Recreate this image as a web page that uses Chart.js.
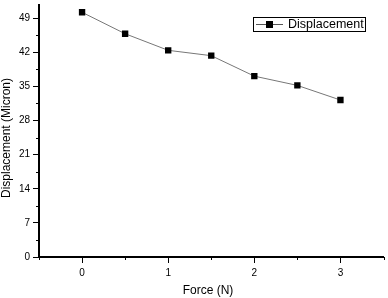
<!DOCTYPE html>
<html>
<head>
<meta charset="utf-8">
<script src="https://cdn.jsdelivr.net/npm/chart.js@4.4.0/dist/chart.umd.min.js"></script>
<style>
  html, body { margin: 0; padding: 0; background: #fff; }
  #wrap { width: 388px; height: 298px; }
</style>
</head>
<body>
<div id="wrap"><canvas id="force_chart" width="388" height="298"></canvas></div>
<script>
// data
const forces = [0, 0.5, 1, 1.5, 2, 2.5, 3];
const displacements = [50.2, 45.8, 42.4, 41.3, 37.1, 35.2, 32.2];
const x_ticks = [0, 1, 2, 3];
const x_minor = [-0.5, 0.5, 1.5, 2.5, 3.5];
const y_ticks = [0, 7, 14, 21, 28, 35, 42, 49];
const y_minor = [3.5, 10.5, 17.5, 24.5, 31.5, 38.5, 45.5];
const series_label = 'Displacement';
const x_title = 'Force (N)';
const y_title = 'Displacement (Micron)';

const FONT = '"Liberation Sans", Arial, sans-serif';

// minor ticks, axis titles and the boxed legend
const extras = {
    id: 'extras',
    afterDraw(chart){
        const ctx = chart.ctx;
        const xs = chart.scales.x;
        const ys = chart.scales.y;
        const area = chart.chartArea;
        ctx.save();
        ctx.strokeStyle = '#000';
        ctx.lineWidth = 1;
        x_minor.forEach(v => {
            const px = Math.round(xs.getPixelForValue(v)) + 0.5;
            ctx.beginPath();
            ctx.moveTo(px, area.bottom);
            ctx.lineTo(px, area.bottom + 3);
            ctx.stroke();
        });
        y_minor.forEach(v => {
            const py = Math.round(ys.getPixelForValue(v)) + 0.5;
            ctx.beginPath();
            ctx.moveTo(area.left, py);
            ctx.lineTo(area.left - 3, py);
            ctx.stroke();
        });

        // axis titles
        ctx.fillStyle = '#000';
        ctx.font = '12px ' + FONT;
        ctx.textAlign = 'center';
        ctx.textBaseline = 'middle';
        ctx.fillText(x_title, 208, 291);
        ctx.save();
        ctx.translate(7, 138);
        ctx.rotate(-Math.PI / 2);
        ctx.fillText(y_title, 0, 0);
        ctx.restore();

        // legend
        ctx.strokeStyle = '#000';
        ctx.strokeRect(253.5, 17.5, 112, 14);
        ctx.strokeStyle = '#555';
        ctx.beginPath();
        ctx.moveTo(256, 24.5);
        ctx.lineTo(283, 24.5);
        ctx.stroke();
        ctx.fillStyle = '#000';
        ctx.fillRect(266, 21, 7, 7);
        ctx.font = '12.5px ' + FONT;
        ctx.textAlign = 'left';
        ctx.fillText(series_label, 288, 25);
        ctx.restore();
    }
};

const ctx = document.getElementById('force_chart').getContext('2d');
const force_chart = new Chart(ctx, {
    type: 'line',
    data: {
        datasets: [{
            label: series_label,
            data: forces.map((f, i) => ({x: f, y: displacements[i]})),
            borderColor: '#777',
            borderWidth: 1,
            fill: false,
            tension: 0,
            pointStyle: 'rect',
            pointRadius: 4.5,
            pointBorderWidth: 0,
            pointBackgroundColor: '#000',
            pointBorderColor: '#000'
        }]
    },
    options: {
        responsive: false,
        animation: false,
        layout: { padding: { left: 0, right: 3, top: 3, bottom: 0 } },
        plugins: {
            legend: { display: false },
            tooltip: { enabled: false }
        },
        scales: {
            x: {
                type: 'linear',
                min: -0.5,
                max: 3.5,
                afterBuildTicks: scale => { scale.ticks = x_ticks.map(v => ({value: v})); },
                afterFit: scale => { scale.height = 41; scale.paddingLeft = 0; scale.paddingRight = 0; },
                border: { color: '#000', width: 2 },
                grid: { drawOnChartArea: false, tickLength: 6, tickColor: '#000' },
                ticks: { color: '#000', font: { family: FONT, size: 10 }, padding: 4, maxRotation: 0 }
            },
            y: {
                type: 'linear',
                min: 0,
                max: 51.8,
                afterBuildTicks: scale => { scale.ticks = y_ticks.map(v => ({value: v})); },
                afterFit: scale => { scale.width = 39; scale.paddingTop = 0; scale.paddingBottom = 0; },
                border: { color: '#000', width: 2 },
                grid: { drawOnChartArea: false, tickLength: 6, tickColor: '#000' },
                ticks: { color: '#000', font: { family: FONT, size: 10 }, padding: 3 }
            }
        }
    },
    plugins: [extras]
});
</script>
</body>
</html>
